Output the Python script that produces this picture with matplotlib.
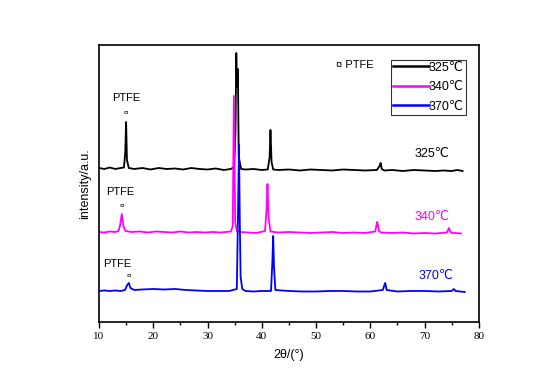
import matplotlib.pyplot as plt
from matplotlib.ticker import MultipleLocator

plt.rcParams['font.family'] = ['Liberation Sans', 'DejaVu Sans']

# XRD patterns (2theta, offset intensity in a.u.)
x_325 = [10, 11, 12, 13, 14, 14.6, 14.85, 15.0, 15.15, 15.5, 16.5, 18, 19.5, 21, 22.5,
         24, 25.5, 27, 28.5, 30, 31.5, 33, 34.3, 34.9, 35.15, 35.3, 35.45, 35.6, 35.75,
         36.2, 37, 38.5, 40, 41.1, 41.45, 41.6, 41.8, 42.1, 43, 45, 47, 49, 51, 53, 55,
         57, 59, 61.2, 61.7, 61.9, 62.1, 62.6, 64, 66, 68, 70, 72, 73.5, 75, 76, 77]
y_325 = [154, 153, 154.5, 153, 154, 154.5, 170, 200, 162, 154, 153, 154, 152.5, 154, 153,
         153.5, 152.5, 154, 153, 152.5, 153.5, 152, 153, 155, 190, 269, 235, 253, 165,
         153, 152.5, 153, 152, 152.5, 165, 192, 160, 152.5, 152, 152.5, 151.5, 152.5, 152, 151.5, 152.5,
         152, 151.5, 152, 156, 159, 153, 151.5, 152, 151, 152, 151.5, 151, 151.5, 151, 152, 151]

x_340 = [10, 11, 12, 13, 13.6, 13.9, 14.2, 14.5, 14.9, 16, 17.5, 19, 20.5, 22, 23.5,
         25, 26.5, 28, 29.5, 31, 32.5, 34.3, 34.65, 34.86, 35.1, 35.4, 36, 37.5, 39,
         40.6, 40.9, 41.05, 41.25, 41.6, 43, 45, 47, 49, 51, 53, 55, 57, 59, 60.9,
         61.25, 61.4, 61.6, 62, 64, 66, 68, 70, 72, 74.1, 74.5, 74.8, 75.5, 76.7]
y_340 = [90, 89.5, 90.5, 90, 91, 97, 108, 96, 91, 90, 90.5, 89.5, 90.5, 90, 89.5,
         90.5, 89.5, 90, 89.5, 90, 89.5, 90.5, 96, 226, 100, 91, 90, 89.5, 89,
         91, 115, 138, 105, 90.5, 89.5, 90, 89.5, 89, 89.5, 90, 89, 89.5, 89, 90.5,
         100, 97, 91, 89.5, 89, 89.5, 88.5, 89, 88.5, 89.5, 94, 89.5, 89, 88.5]

x_370 = [10, 11, 12, 13, 14, 14.8, 15.2, 15.5, 15.8, 16.5, 18, 20, 22, 24, 26, 28, 30,
         32, 34, 35.4, 35.65, 35.8, 35.95, 36.1, 36.4, 37, 38.5, 40, 41.7, 41.95, 42.1,
         42.25, 42.5, 45, 47.5, 50, 52.5, 55, 57.5, 60, 62.3, 62.6, 62.75, 63.0, 65,
         67.5, 70, 72.5, 75, 75.4, 75.7, 77.4]
y_370 = [31, 31.5, 31, 31.5, 31, 32, 37, 39, 34, 32, 32.5, 33, 32.5, 33, 32, 31.5, 31,
         31, 31, 33, 120, 177, 100, 45, 33, 31, 30.5, 31, 31, 60, 86,
         55, 32, 31, 30.5, 30.5, 31, 31, 30.5, 30.5, 32, 37, 39, 32, 30.5,
         31, 31, 30.5, 31, 33, 31, 30]

labels = ['325\u2103', '340\u2103', '370\u2103']
colors = ['black', '#ff00ff', '#0000ff']

fig = plt.figure(figsize=(5.57, 3.87), dpi=100)
ax = fig.add_axes([0.1777, 0.168, 0.682, 0.717])

ax.plot(x_325, y_325, color=colors[0], lw=1.3, label=labels[0])
ax.plot(x_340, y_340, color=colors[1], lw=1.3, label=labels[1])
ax.plot(x_370, y_370, color=colors[2], lw=1.3, label=labels[2])

ax.set_xlim(10, 80)
ax.set_ylim(0, 277.5)
ax.xaxis.set_major_locator(MultipleLocator(10))
ax.xaxis.set_minor_locator(MultipleLocator(5))
ax.tick_params(axis='x', which='major', length=4, width=1, direction='out',
               labelsize=8, pad=3, labelfontfamily='Liberation Serif')
ax.tick_params(axis='x', which='minor', length=2.5, width=1, direction='out')
ax.set_yticks([])
for s in ax.spines.values():
    s.set_linewidth(1.2)

ax.set_xlabel('2\u03b8/(\u00b0)', fontsize=9, labelpad=6)
ax.set_ylabel('intensity/a.u.', fontsize=9, labelpad=6)

# PTFE markers
ax.text(15.0, 224, 'PTFE', ha='center', va='center', fontsize=8)
ax.text(15.0, 209, '\u00a4', ha='center', va='center', fontsize=6)
ax.text(14.0, 130, 'PTFE', ha='center', va='center', fontsize=8)
ax.text(14.2, 116, '\u00a4', ha='center', va='center', fontsize=6)
ax.text(13.3, 58, 'PTFE', ha='center', va='center', fontsize=8)
ax.text(15.5, 46, '\u00a4', ha='center', va='center', fontsize=6)
ax.text(53.6, 257, '\u00a4 PTFE', ha='left', va='center', fontsize=8)

# sample labels on the right
ax.text(68.2, 168, labels[0], color=colors[0], fontsize=9, va='center')
ax.text(68.2, 105, labels[1], color=colors[1], fontsize=9, va='center')
ax.text(68.8, 46, labels[2], color=colors[2], fontsize=9, va='center')

leg = ax.legend(loc='upper left', bbox_to_anchor=(0.768, 0.945), fontsize=9,
                frameon=True, fancybox=False, edgecolor='black', borderpad=0.15,
                handlelength=2.9, handletextpad=0.0, labelspacing=0.6,
                borderaxespad=0)
leg.get_frame().set_linewidth(0.8)
for line in leg.get_lines():
    line.set_linewidth(1.8)

fig.savefig('out.png', dpi=100)
